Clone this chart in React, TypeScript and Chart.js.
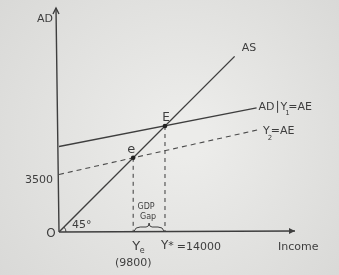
import React, { useEffect, useRef } from "react";
import { Chart, registerables } from "chart.js";

Chart.register(...registerables);

// ---- data (diagram units: income on x, aggregate demand/expenditure on y) ----
const asX = [0, 23200];
const asY = [0, 23200];
const ad1X = [0, 26100];
const ad1Y = [11300, 16400];
const ad2X = [0, 26300];
const ad2Y = [7600, 13500];
const equilibriumNames = ["e", "E"];
const equilibriumX = [9800, 14000];
const equilibriumY = [9800, 14000];
const xTickValues = [9800, 14000];
const xTickLabels = ["(9800)", "=14000"];
const yTickValues = [7600];
const yTickLabels = ["3500"];
const X_MAX = 31175;
const Y_MAX = 29590;

const INK = "#3e3e3e";
const FONT = "'DejaVu Sans', sans-serif";

const pts = (xs: number[], ys: number[]) => xs.map((x, i) => ({ x, y: ys[i] }));

export default function App() {
  const ref = useRef<HTMLCanvasElement | null>(null);
  useEffect(() => {
    document.body.style.margin = "0";
    const canvas = ref.current!;
    const decor = {
      id: "decor",
      beforeDraw(chart: any) {
        const { ctx, width, height } = chart;
        ctx.save();
        const g = ctx.createRadialGradient(width * 0.55, height * 0.5, 20, width * 0.5, height * 0.5, 230);
        g.addColorStop(0, "#ececea");
        g.addColorStop(1, "#d8d8d6");
        ctx.fillStyle = g;
        ctx.fillRect(0, 0, width, height);
        ctx.restore();
      },
      afterDraw(chart: any) {
        const { ctx } = chart;
        const xs = chart.scales.x;
        const ys = chart.scales.y;
        const px = (v: number) => xs.getPixelForValue(v);
        const py = (v: number) => ys.getPixelForValue(v);
        const ox = px(0);
        const oy = py(0);
        ctx.save();
        ctx.strokeStyle = INK;
        ctx.fillStyle = INK;
        ctx.lineWidth = 1.4;
        // axes
        ctx.beginPath();
        ctx.moveTo(ox, oy);
        ctx.lineTo(ox - 3, py(Y_MAX));
        ctx.moveTo(ox, oy);
        ctx.lineTo(px(X_MAX), oy - 1);
        ctx.stroke();
        // arrow heads
        const topX = ox - 3, topY = py(Y_MAX);
        ctx.beginPath();
        ctx.moveTo(topX - 3, topY + 6);
        ctx.lineTo(topX, topY);
        ctx.lineTo(topX + 3, topY + 6);
        ctx.stroke();
        const rx = px(X_MAX), ry = oy - 1;
        ctx.beginPath();
        ctx.moveTo(rx - 6, ry - 3);
        ctx.lineTo(rx, ry);
        ctx.lineTo(rx - 6, ry + 3);
        ctx.closePath();
        ctx.fill();
        // 45 degree arc
        ctx.lineWidth = 1;
        ctx.beginPath();
        ctx.arc(ox, oy, 7, -Math.PI / 4, 0);
        ctx.stroke();

        // GDP gap brace
        const b1 = px(equilibriumX[0]) + 1;
        const b2 = px(equilibriumX[1]) - 1;
        const bm = (b1 + b2) / 2;
        const by = oy - 3;
        ctx.beginPath();
        ctx.moveTo(b1, by + 2);
        ctx.quadraticCurveTo(b1 + 1, by - 2, b1 + 6, by - 2);
        ctx.lineTo(bm - 3, by - 2);
        ctx.quadraticCurveTo(bm, by - 2, bm, by - 6);
        ctx.quadraticCurveTo(bm, by - 2, bm + 3, by - 2);
        ctx.lineTo(b2 - 6, by - 2);
        ctx.quadraticCurveTo(b2 - 1, by - 2, b2, by + 2);
        ctx.stroke();

        ctx.textBaseline = "middle";
        const text = (t: string, x: number, y: number, size: number, align: CanvasTextAlign = "left") => {
          ctx.font = `${size}px ${FONT}`;
          ctx.textAlign = align;
          ctx.fillText(t, x, y);
          return ctx.measureText(t).width;
        };

        // origin and axis titles
        text("O", ox - 8, oy + 2, 12, "center");
        text("AD", ox - 14, py(Y_MAX) + 11, 11, "center");
        text("Income", px(X_MAX) - 17, oy + 15, 11, "left");
        text("45°", ox + 13, oy - 7, 11, "left");

        // y ticks
        yTickValues.forEach((v, i) => text(yTickLabels[i], ox - 6, py(v) + 6, 11, "right"));

        // x ticks
        const yeX = px(xTickValues[0]);
        text("Y", yeX + 3, oy + 15, 13, "center");
        text("e", yeX + 9, oy + 19, 8, "center");
        text(xTickLabels[0], yeX, oy + 31, 11, "center");
        const ysX = px(xTickValues[1]);
        let w = text("Y", ysX - 4, oy + 14, 12, "left");
        w += text("*", ysX - 4 + w, oy + 14, 11, "left");
        text(xTickLabels[1], ysX - 1 + w, oy + 15, 11, "left");

        // gap label
        text("GDP", bm - 3, oy - 25, 8, "center");
        text("Gap", bm - 1, oy - 15, 8, "center");

        // curve labels
        const asEnd = { x: px(asX[1]), y: py(asY[1]) };
        text("AS", asEnd.x + 7, asEnd.y - 8, 11, "left");
        const ad1End = { x: px(ad1X[1]), y: py(ad1Y[1]) };
        let lx = ad1End.x + 2;
        const ly = ad1End.y - 1;
        lx += text("AD", lx, ly, 11, "left");
        ctx.beginPath();
        ctx.moveTo(lx + 3, ly - 6);
        ctx.lineTo(lx + 3, ly + 6);
        ctx.stroke();
        lx += 6;
        lx += text("Y", lx, ly, 11, "left");
        text("1", lx - 2, ly + 6, 7, "left");
        text("=AE", lx + 1, ly, 11, "left");
        const ad2End = { x: px(ad2X[1]), y: py(ad2Y[1]) };
        let l2 = ad2End.x + 5;
        const l2y = ad2End.y + 1;
        l2 += text("Y", l2, l2y, 11, "left");
        text("2", l2 - 2, l2y + 7, 7, "left");
        text("=AE", l2 + 1, l2y, 11, "left");

        // equilibrium labels
        equilibriumNames.forEach((n, i) => {
          const ex = px(equilibriumX[i]);
          const ey = py(equilibriumY[i]);
          text(n, n === "E" ? ex + 1 : ex - 2, ey - 8, n === "E" ? 12 : 13, "center");
        });
        ctx.restore();
      },
    };

    const solid = { borderColor: INK, borderWidth: 1.4, pointRadius: 0, showLine: true, fill: false };
    const dashed = { borderColor: "#4a4a4a", borderWidth: 1.1, pointRadius: 0, showLine: true, fill: false, borderDash: [4, 4] };

    const chart = new Chart(canvas, {
      type: "scatter",
      data: {
        datasets: [
          { label: "AS", data: pts(asX, asY), ...solid },
          { label: "AD | Y1=AE", data: pts(ad1X, ad1Y), ...solid },
          { label: "Y2=AE", data: pts(ad2X, ad2Y), ...dashed, borderDash: [5, 4] },
          ...equilibriumX.map((x, i) => ({
            label: "drop " + equilibriumNames[i],
            data: [{ x, y: equilibriumY[i] }, { x, y: 0 }],
            ...dashed,
            borderDash: [4, 4],
          })),
          {
            label: "equilibria",
            data: pts(equilibriumX, equilibriumY),
            showLine: false,
            pointRadius: 2.3,
            pointBackgroundColor: "#222222",
            pointBorderWidth: 0,
            order: -1,
          },
        ],
      },
      options: {
        responsive: false,
        animation: false,
        events: [],
        layout: { padding: { left: 59, right: 44, top: 8, bottom: 43 } },
        plugins: { legend: { display: false }, tooltip: { enabled: false } },
        scales: {
          x: { type: "linear", min: 0, max: X_MAX, display: false },
          y: { type: "linear", min: 0, max: Y_MAX, display: false },
        },
      },
      plugins: [decor],
    });
    return () => chart.destroy();
  }, []);
  return (
    <div style={{ width: 339, height: 275 }}>
      <canvas ref={ref} width={339} height={275} style={{ display: "block" }} />
    </div>
  );
}
